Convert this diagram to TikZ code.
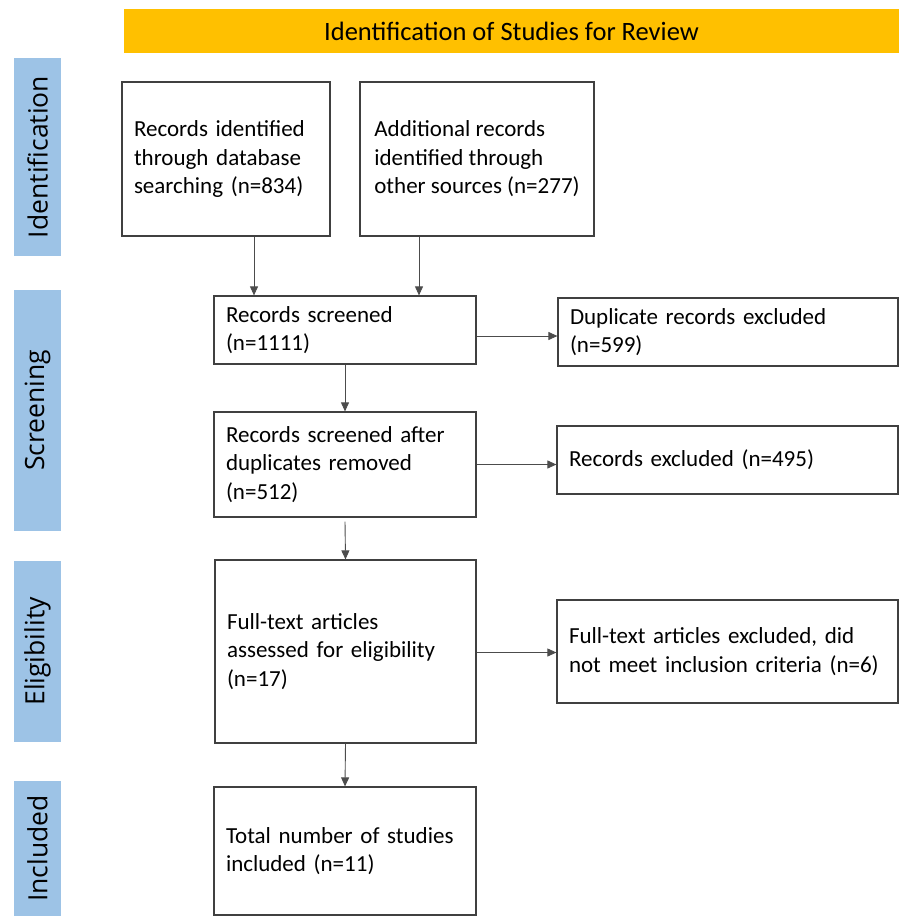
\documentclass[tikz,border=0pt]{standalone}
\usepackage{fontspec}
\setmainfont{Carlito}
\newfontfamily\phasefont{Open Sans}
\usetikzlibrary{arrows.meta}
\definecolor{phasebar}{HTML}{9DC3E6}
\definecolor{titlebar}{HTML}{FFC000}

\begin{document}
\begin{tikzpicture}[x=1pt,y=-1pt,
  box/.style={draw=black!75,line width=1.2pt,align=left,inner xsep=12pt,inner ysep=0pt,
    font=\fontsize{23}{28.5}\selectfont},
  phase/.style={fill=phasebar,rotate=90,minimum height=47pt,inner sep=0pt,
    font=\phasefont\fontsize{26.5}{32}\selectfont},
  arr/.style={-{Triangle[length=9pt,width=8pt]},draw=black!70,line width=0.9pt}]
\useasboundingbox (0,0) rectangle (899,917);

% title and phases
\node[fill=titlebar,minimum width=775pt,minimum height=44pt,inner sep=0pt,
  font=\fontsize{26.5}{30}\selectfont] (title) at (511.5,31) {Identification of Studies for Review};
\node[phase,minimum width=198pt] (ident) at (37.5,157) {Identification};
\node[phase,minimum width=241pt] (screen) at (37.5,410.5) {Screening};
\node[phase,minimum width=181pt] (elig) at (37.5,651.5) {Eligibility};
\node[phase,minimum width=135pt] (incl) at (37.5,848.5) {Included};

% boxes
\node[box,text width=184pt,minimum height=154pt] (db) at (226,159)
  {Records identified\\ through database\\ searching (n=834)};
\node[box,inner xsep=0pt,minimum width=234pt,minimum height=154pt] (other) at (477,159)
  {Additional records\\ identified through\\ other sources (n=277)};
\node[box,text width=238pt,minimum height=68pt] (scr) at (345,330)
  {Records screened\\ (n=1111)};
\node[box,text width=316pt,minimum height=68pt] (dup) at (728,332)
  {Duplicate records excluded\\ (n=599)};
\node[box,text width=238pt,minimum height=105pt] (after) at (345,464.5)
  {Records screened after\\ duplicates removed\\ (n=512)};
\node[box,text width=317pt,minimum height=68pt] (excl) at (727.5,460)
  {Records excluded (n=495)};
\node[box,text width=237pt,minimum height=183pt] (full) at (345.5,651.5)
  {Full-text articles\\ assessed for eligibility\\ (n=17)};
\node[box,text width=317pt,minimum height=103pt] (fullex) at (727.5,651.5)
  {Full-text articles excluded, did\\ not meet inclusion criteria (n=6)};
\node[box,text width=238pt,minimum height=128pt] (total) at (345,851)
  {Total number of studies\\ included (n=11)};

% arrows
\draw[arr] ([xshift=28pt]db.south) -- ([xshift=28pt]db.south |- scr.north);
\draw[arr] ([xshift=-58pt]other.south) -- ([xshift=-58pt]other.south |- scr.north);
\draw[arr] ([yshift=-6pt]scr.east) -- ([yshift=-6pt]scr.east -| dup.west);
\draw[arr] (scr.south) -- (after.north);
\draw[arr] (after.east) -- (after.east -| excl.west);
\draw[arr] ([yshift=-4pt]after.south) -- (full.north);
\draw[arr] ([yshift=-1pt]full.east) -- ([yshift=-1pt]full.east -| fullex.west);
\draw[arr] (full.south) -- (total.north);
\end{tikzpicture}
\end{document}
